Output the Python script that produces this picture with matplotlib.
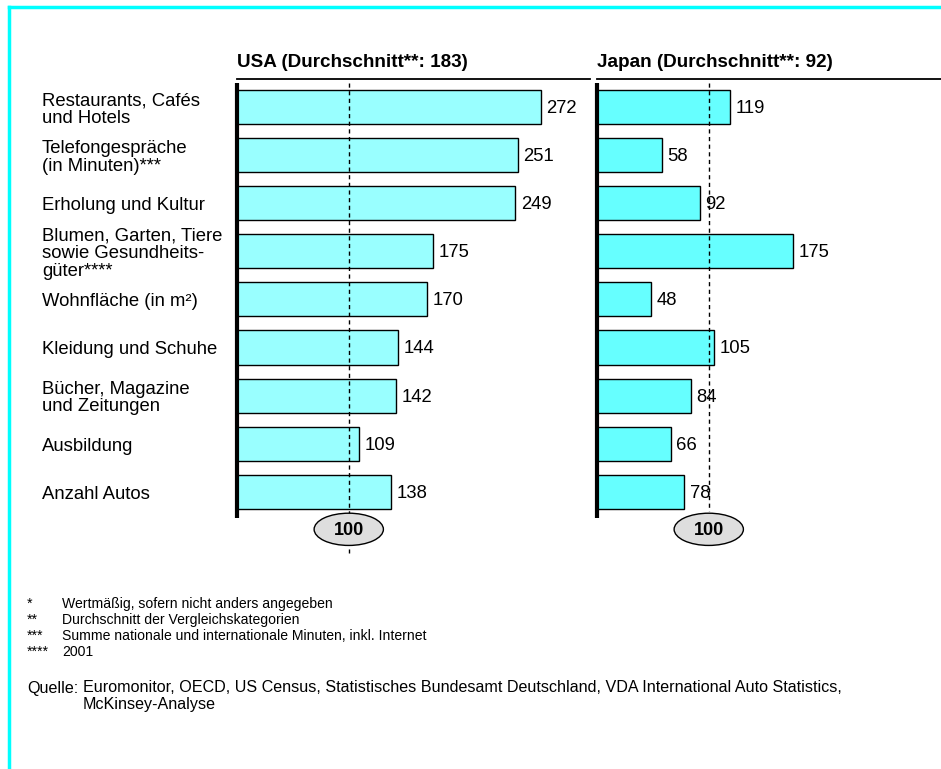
import matplotlib.pyplot as plt
from matplotlib.patches import Ellipse
from matplotlib.transforms import blended_transform_factory

plt.rcParams['font.family'] = ['Liberation Sans', 'DejaVu Sans']

categories = ["Restaurants, Cafés\nund Hotels",
              "Telefongespräche\n(in Minuten)***",
              "Erholung und Kultur",
              "Blumen, Garten, Tiere\nsowie Gesundheits-\ngüter****",
              "Wohnfläche (in m²)",
              "Kleidung und Schuhe",
              "Bücher, Magazine\nund Zeitungen",
              "Ausbildung",
              "Anzahl Autos"]
usa = [272, 251, 249, 175, 170, 144, 142, 109, 138]
japan = [119, 58, 92, 175, 48, 105, 84, 66, 78]
titles = ["USA (Durchschnitt**: 183)", "Japan (Durchschnitt**: 92)"]
reference = 100

footnotes = [("*", "Wertmäßig, sofern nicht anders angegeben"),
             ("**", "Durchschnitt der Vergleichskategorien"),
             ("***", "Summe nationale und internationale Minuten, inkl. Internet"),
             ("****", "2001")]
source = ["Euromonitor, OECD, US Census, Statistisches Bundesamt Deutschland, VDA International Auto Statistics,",
          "McKinsey-Analyse"]

W, H = 941, 769
fig = plt.figure(figsize=(W / 100, H / 100), dpi=100)

# cyan frame (top and left)
fig.add_artist(plt.Line2D([9 / W, 1], [1 - 7 / H, 1 - 7 / H], color="#00FFFF", lw=2.5))
fig.add_artist(plt.Line2D([9 / W, 9 / W], [0, 1 - 7 / H], color="#00FFFF", lw=2.5))

px_per_unit = 1.1176
row0, row_step = 107, 48.1
top_px, bot_px = 79, 560
fs = 13.3


def make_ax(left_px, right_px, values, color, title, label_cats, dash_end):
    ax = fig.add_axes([left_px / W, 1 - bot_px / H, (right_px - left_px) / W, (bot_px - top_px) / H])
    ax.set_xlim(0, (right_px - left_px) / px_per_unit)
    ax.set_ylim((bot_px - row0) / row_step, (top_px - row0) / row_step)
    ax.axis("off")
    ypos = list(range(len(values)))
    ax.barh(ypos, values, height=0.71, color=color, edgecolor="black", linewidth=1.0, zorder=2)
    # header line
    ax.plot([0, 1], [1, 1], transform=ax.transAxes, color="black", lw=1.3, clip_on=False)
    # axis line
    ax.plot([0, 0], [-0.5, 8.55], color="black", lw=3, solid_capstyle="butt", zorder=4, clip_on=False)
    # reference line at 100
    ax.plot([reference, reference], [-0.5, dash_end], color="black", lw=1, ls=(0, (3, 2.5)), zorder=3, clip_on=False)
    for y, v in zip(ypos, values):
        ax.text(v + 5, y + 0.03, str(v), va="center", ha="left", fontsize=fs)
    ax.add_patch(Ellipse((reference, 8.78), 62, 0.67, facecolor="#dedede", edgecolor="black", lw=1.0, zorder=5))
    ax.text(reference, 8.8, "100", ha="center", va="center", fontsize=13, fontweight="bold", zorder=6)
    ax.text(0, 1 + 16 / (bot_px - top_px), title, transform=ax.transAxes, ha="left", va="center",
            fontsize=13.6, fontweight="bold")
    if label_cats:
        tr = blended_transform_factory(fig.transFigure, ax.transData)
        for y, c in zip(ypos, categories):
            ax.text(42 / W, y + 0.05, c, transform=tr, ha="left", va="center", fontsize=fs, linespacing=1.05)
    return ax


make_ax(237, 590, usa, "#99FFFF", titles[0], True, 9.27)
make_ax(597, 941, japan, "#66FFFF", titles[1], False, 8.4)

for i, (star, txt) in enumerate(footnotes):
    y = 1 - (604 + 16 * i) / H
    fig.text(27 / W, y, star, ha="left", va="center", fontsize=10.1)
    fig.text(62 / W, y, txt, ha="left", va="center", fontsize=10.1)

fig.text(27 / W, 1 - 688 / H, "Quelle:", ha="left", va="center", fontsize=11.6)
for i, s in enumerate(source):
    fig.text(83 / W, 1 - (688 + 16 * i) / H, s, ha="left", va="center", fontsize=11.6)

fig.savefig("out.png", dpi=100)
